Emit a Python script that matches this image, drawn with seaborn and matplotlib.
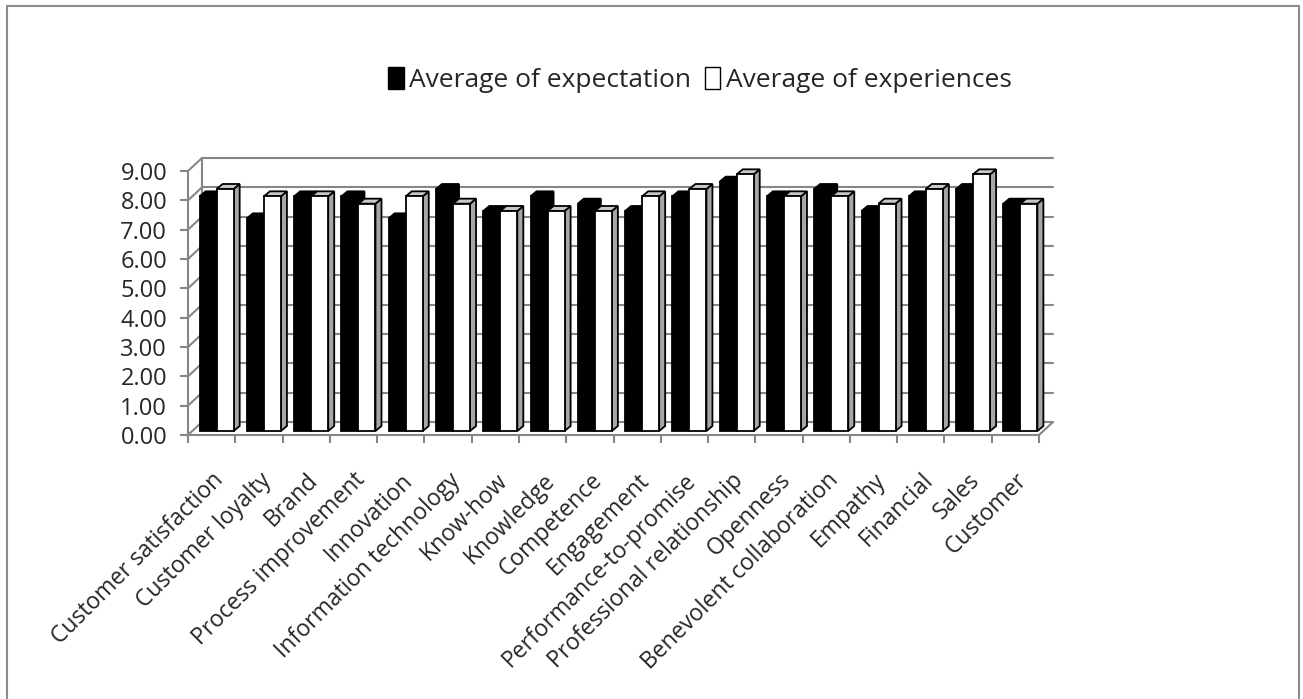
"""Expectation vs experience averages as an Excel-like 3D clustered column chart."""
import numpy as np
import pandas as pd
import matplotlib
matplotlib.use("Agg")
import matplotlib.pyplot as plt
import seaborn as sns
from matplotlib.lines import Line2D
from matplotlib.patches import Patch, Polygon
from matplotlib.transforms import IdentityTransform, offset_copy

# data
categories = [
    "Customer satisfaction", "Customer loyalty", "Brand", "Process improvement",
    "Innovation", "Information technology", "Know-how", "Knowledge",
    "Competence", "Engagement", "Performance-to-promise",
    "Professional relationship", "Openness", "Benevolent collaboration",
    "Empathy", "Financial", "Sales", "Customer",
]
expectation = [8.00, 7.25, 8.00, 8.00, 7.25, 8.25, 7.50, 8.00, 7.75,
               7.50, 8.00, 8.50, 8.00, 8.25, 7.50, 8.00, 8.25, 7.75]
experiences = [8.25, 8.00, 8.00, 7.75, 8.00, 7.75, 7.50, 7.50, 7.50,
               8.00, 8.25, 8.75, 8.00, 8.00, 7.75, 8.25, 8.75, 7.75]
series_names = ["Average of expectation", "Average of experiences"]
y_ticks = [0, 1, 2, 3, 4, 5, 6, 7, 8, 9]

df = pd.DataFrame({"category": categories,
                   series_names[0]: expectation,
                   series_names[1]: experiences})
df = df.melt(id_vars="category", var_name="series", value_name="value")

W, H = 1303, 699
GRID = "#868686"
BACK = np.array([14.0, 13.0])   # depth of the back wall, px
BAR_OFF = (5, 4)                # bars sit in the middle of the depth, px
BAR_D = np.array([6.0, 5.0])    # depth of a single column, px

sns.set_theme(style="white")
plt.rcParams["font.family"] = ["Open Sans", "DejaVu Sans"]

fig = plt.figure(figsize=(W / 100, H / 100), dpi=100)
ax = fig.add_axes([188 / W, 1 - 435 / H, (1039 - 188) / W, (435 - 171) / H])
ax.patch.set_alpha(0)

sns.barplot(data=df, x="category", y="value", hue="series",
            palette=["black", "white"], edgecolor="black", linewidth=1.3,
            width=0.72, dodge=True, ax=ax, legend=False, zorder=3)
ax.set_xlim(-0.5, len(categories) - 0.5)
ax.set_ylim(0, 9)

# axis cosmetics: front axes in grey
for s in ["top", "right"]:
    ax.spines[s].set_visible(False)
for s in ["left", "bottom"]:
    ax.spines[s].set_color(GRID)
    ax.spines[s].set_linewidth(1.5)
    ax.spines[s].set_zorder(1)
ax.set_xlabel("")
ax.set_ylabel("")
ax.set_yticks(y_ticks)
ax.set_yticklabels([f"{v:.2f}" for v in y_ticks], fontsize=17)
ax.tick_params(axis="y", length=6, width=1.5, color=GRID, pad=9, left=True)
ax.set_xticks(np.arange(-0.5, len(categories), 1), minor=True)
ax.tick_params(axis="x", which="minor", length=6, width=1.5, color=GRID,
               direction="out", bottom=True)
ax.tick_params(axis="x", which="major", length=0, pad=24)
ax.set_xticks(range(len(categories)))
ax.set_xticklabels(categories, rotation=45, ha="right", va="top",
                   rotation_mode="anchor", fontsize=16.5)

fig.canvas.draw()
to_px = ax.transData.transform
ident = IdentityTransform()


def seg(p, q, target, **kw):
    ln = Line2D([p[0], q[0]], [p[1], q[1]], transform=ident, clip_on=False, **kw)
    if target is fig:
        fig.add_artist(ln)
    else:
        target.add_line(ln)


# back wall grid, left wall and floor (behind the columns)
x0, x1 = -0.5, len(categories) - 0.5
for v in y_ticks:
    a, b = to_px((x0, v)), to_px((x1, v))
    seg(a, a + BACK, ax, color=GRID, lw=1.5, zorder=1)
    seg(a + BACK, b + BACK, ax, color=GRID, lw=1.5, zorder=1)
seg(to_px((x0, 0)) + BACK, to_px((x0, 9)) + BACK, ax, color=GRID, lw=1.5, zorder=1)
seg(to_px((x1, 0)), to_px((x1, 0)) + BACK, ax, color=GRID, lw=1.5, zorder=1)

# 3D columns: shift fronts, then add top and side faces
shift = offset_copy(ax.transData, fig=fig, x=BAR_OFF[0], y=BAR_OFF[1], units="dots")
n = len(categories)
off = np.array(BAR_OFF, dtype=float)
for i, p in enumerate(list(ax.patches[:2 * n])):
    white = i >= n
    z = 5 if white else 3
    p.set_transform(shift)
    p.set_zorder(z)
    p.set_clip_on(False)
    bx, bw, bh = p.get_x(), p.get_width(), p.get_height()
    fl = to_px((bx, bh)) + off
    fr = to_px((bx + bw, bh)) + off
    br = to_px((bx + bw, 0)) + off
    top = [fl, fr, fr + BAR_D, fl + BAR_D]
    side = [br, fr, fr + BAR_D, br + BAR_D]
    for pts, fc in [(side, "#a6a6a6" if white else "black"),
                    (top, "#c8c8c8" if white else "black")]:
        poly = Polygon(pts, closed=True, transform=ident, facecolor=fc,
                       edgecolor="black", lw=1.3, zorder=z - 0.5, clip_on=False)
        ax.add_patch(poly)

# legend
handles = [Patch(facecolor="black", edgecolor="black"),
           Patch(facecolor="white", edgecolor="black", lw=1.0)]
fig.legend(handles, series_names, loc="center", ncol=2,
           bbox_to_anchor=(700 / W, 1 - 80 / H), frameon=False, fontsize=19,
           handlelength=0.6, handleheight=0.9, handletextpad=0.2,
           columnspacing=0.5)

# chart border (no bottom edge visible)
seg((7, 0), (7, H - 6), fig, color="#8c8c8c", lw=1.5)
seg((7, H - 6), (1299, H - 6), fig, color="#8c8c8c", lw=1.5)
seg((1299, H - 6), (1299, 0), fig, color="#8c8c8c", lw=1.5)

fig.savefig("out.png", dpi=100)
